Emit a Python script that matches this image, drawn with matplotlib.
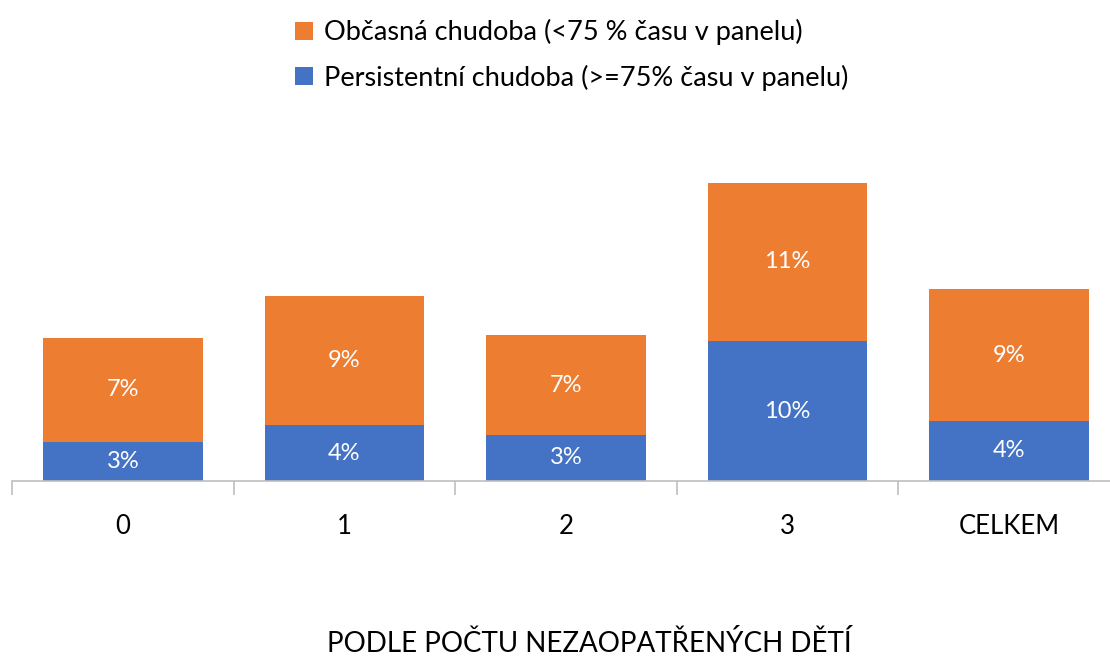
import matplotlib.pyplot as plt
import numpy as np

plt.rcParams['font.family'] = ['Lato', 'DejaVu Sans']

categories = ['0', '1', '2', '3', 'CELKEM']
persistent = [2.8, 4.0, 3.3, 10.0, 4.3]
occasional = [7.4, 9.2, 7.1, 11.3, 9.4]
persistent_labels = ['3%', '4%', '3%', '10%', '4%']
occasional_labels = ['7%', '9%', '7%', '11%', '9%']

orange = '#ED7D31'
blue = '#4472C4'

fig = plt.figure(figsize=(11.1, 6.58), dpi=100)
ax = fig.add_axes([12 / 1110, 177 / 658, 1108 / 1110, 350 / 658])

x = np.arange(len(categories))
b1 = ax.bar(x, persistent, width=0.72, color=blue, label='Persistentní chudoba (>=75% času v panelu)')
b2 = ax.bar(x, occasional, width=0.72, bottom=persistent, color=orange,
            label='Občasná chudoba (<75 % času v panelu)')

for i in range(len(categories)):
    ax.text(x[i], persistent[i] / 2, persistent_labels[i], ha='center', va='center',
            color='white', fontsize=17)
    ax.text(x[i], persistent[i] + occasional[i] / 2, occasional_labels[i], ha='center',
            va='center', color='white', fontsize=17)

ax.set_xlim(-0.5, len(categories) - 0.5)
ax.set_ylim(0, 25)
ax.set_yticks([])
for s in ['top', 'right', 'left']:
    ax.spines[s].set_visible(False)
ax.spines['bottom'].set_color('#BFBFBF')
ax.spines['bottom'].set_linewidth(1.2)

ax.set_xticks(x)
ax.set_xticklabels(categories, fontsize=18.5)
ax.tick_params(axis='x', length=0, pad=24)
ax.set_xticks(np.arange(-0.5, len(categories)), minor=True)
ax.tick_params(axis='x', which='minor', length=10, color='#BFBFBF', width=1.2)

fig.text(589 / 1110, 14 / 658, 'PODLE POČTU NEZAOPATŘENÝCH DĚTÍ', ha='center', va='center', fontsize=20)

fig.legend(handles=[b2, b1], loc='upper left', bbox_to_anchor=(271 / 1110, 1.008),
           frameon=False, fontsize=19.5, handlelength=0.65, handleheight=0.65,
           handletextpad=0.4, labelspacing=0.72)

fig.savefig('out.png', dpi=100)
